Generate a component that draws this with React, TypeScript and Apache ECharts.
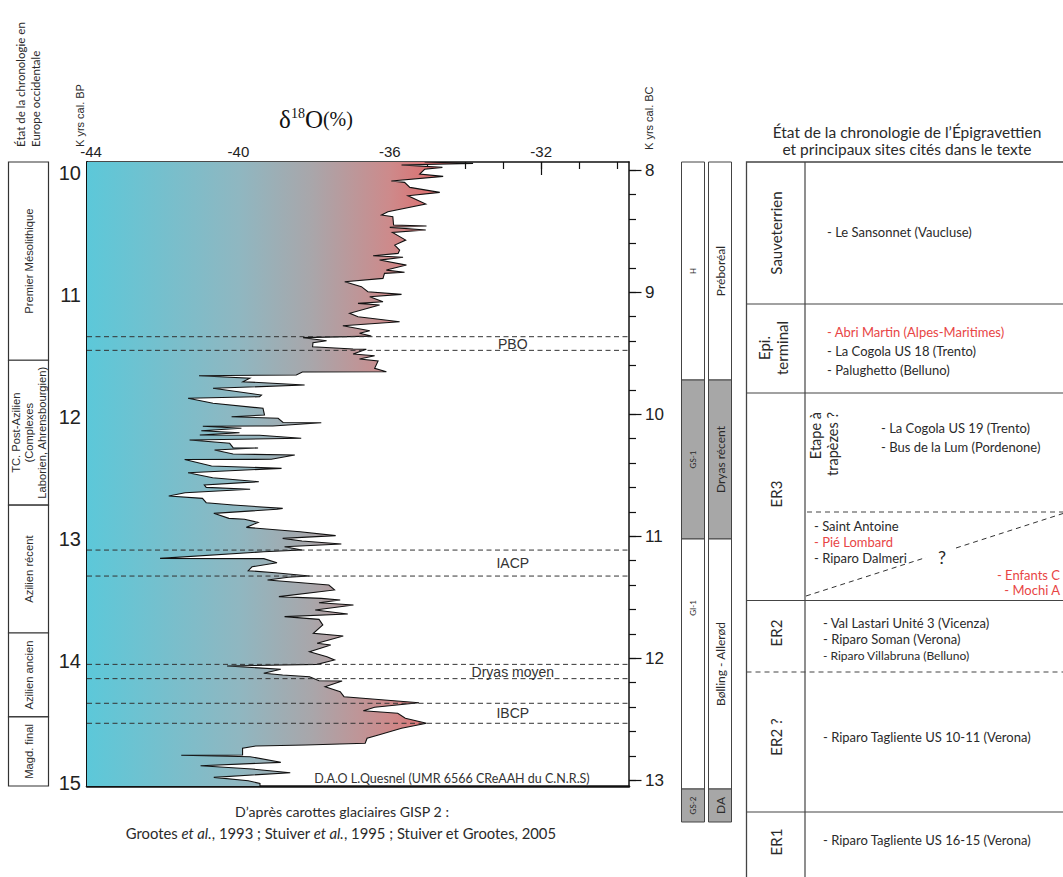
import React, { useEffect, useRef } from "react";
import * as echarts from "echarts";

// ---------- DATA ----------
// GISP2 delta18O curve: [age (k yrs cal. BP), delta18O (permil)]
const curve: [number, number][] = [
  [9.912, -35.08], [9.923, -33.8], [9.937, -35.69], [9.956, -34.61], [9.972, -35.08], [10.011, -35.21],
  [10.03, -34.59], [10.068, -35.96], [10.079, -35.61], [10.12, -35.47], [10.161, -34.68], [10.189, -35.52],
  [10.257, -35.05], [10.32, -36.05], [10.347, -36.22], [10.361, -35.92], [10.429, -35.9], [10.437, -35.03],
  [10.448, -36.0], [10.47, -35.05], [10.49, -35.93], [10.552, -35.58], [10.593, -35.87], [10.634, -35.74],
  [10.661, -35.78], [10.68, -36.44], [10.693, -35.65], [10.716, -36.27], [10.757, -35.56], [10.798, -36.09],
  [10.816, -35.61], [10.825, -36.14], [10.866, -36.18], [10.893, -37.19], [10.934, -36.75], [10.975, -36.58],
  [10.997, -35.69], [11.016, -36.53], [11.057, -36.18], [11.071, -36.84], [11.084, -36.27], [11.152, -37.06],
  [11.18, -36.84], [11.221, -35.74], [11.254, -37.24], [11.295, -36.53], [11.316, -36.8], [11.339, -36.49],
  [11.352, -38.29], [11.377, -37.67], [11.393, -38.03], [11.426, -38.04], [11.445, -36.97], [11.447, -36.62],
  [11.486, -36.97], [11.5, -36.4], [11.527, -36.8], [11.543, -36.31], [11.603, -36.4], [11.631, -36.09],
  [11.633, -38.31], [11.658, -38.47], [11.664, -41.04], [11.685, -39.7], [11.713, -39.88], [11.74, -38.25],
  [11.767, -40.67], [11.822, -39.39], [11.836, -39.44], [11.849, -41.33], [11.89, -40.67], [11.931, -39.35],
  [11.986, -39.31], [12.0, -40.18], [12.013, -38.95], [12.047, -38.82], [12.05, -37.81], [12.076, -39.09],
  [12.078, -40.94], [12.095, -39.92], [12.115, -40.98], [12.131, -39.97], [12.15, -41.02], [12.152, -39.44],
  [12.177, -38.34], [12.191, -41.29], [12.218, -40.23], [12.254, -40.14], [12.256, -39.48], [12.273, -40.63],
  [12.306, -40.14], [12.314, -38.51], [12.349, -39.13], [12.351, -41.42], [12.404, -40.71], [12.423, -38.86],
  [12.459, -41.33], [12.5, -40.68], [12.533, -39.46], [12.56, -40.9], [12.579, -40.85], [12.595, -39.69],
  [12.623, -41.41], [12.65, -41.84], [12.669, -40.95], [12.705, -40.85], [12.724, -40.14], [12.751, -38.83],
  [12.759, -38.98], [12.792, -40.65], [12.833, -40.25], [12.841, -39.84], [12.866, -39.48], [12.907, -39.79],
  [12.943, -38.37], [12.975, -37.43], [12.997, -38.83], [13.019, -38.32], [13.043, -37.28], [13.066, -38.78],
  [13.093, -38.32], [13.107, -39.33], [13.161, -42.07], [13.163, -39.33], [13.197, -38.98], [13.23, -39.64],
  [13.262, -39.74], [13.279, -39.03], [13.306, -38.12], [13.316, -38.68], [13.339, -39.23], [13.38, -37.61],
  [13.42, -37.46], [13.475, -38.93], [13.489, -37.81], [13.502, -37.31], [13.525, -37.87], [13.543, -36.96],
  [13.584, -37.97], [13.617, -37.11], [13.639, -38.78], [13.661, -37.87], [13.707, -37.77], [13.775, -38.02],
  [13.798, -37.23], [13.857, -37.92], [13.871, -37.56], [13.926, -38.12], [13.967, -37.66], [13.994, -37.46],
  [14.03, -37.92], [14.043, -40.3], [14.07, -38.88], [14.103, -39.33], [14.117, -38.83], [14.131, -38.12],
  [14.164, -37.87], [14.166, -37.26], [14.213, -37.71], [14.254, -37.31], [14.295, -37.21], [14.344, -35.23],
  [14.382, -36.4], [14.41, -36.7], [14.431, -35.79], [14.472, -35.59], [14.513, -35.03], [14.554, -35.69],
  [14.609, -36.3], [14.636, -36.6], [14.677, -36.65], [14.691, -38.22], [14.699, -39.54], [14.718, -39.89],
  [14.773, -39.89], [14.775, -41.51], [14.787, -39.69], [14.833, -38.88], [14.861, -41.0], [14.888, -39.64],
  [14.918, -38.63], [14.956, -40.65], [14.984, -39.74], [15.006, -39.43], [15.027, -39.43],
];

// axis ranges and tick values
const X_MIN = -44;
const X_MAX = -29.68;
const BP_MIN = 9.912;
const BP_MAX = 15.027;
const BC_OFFSET = 1.98; // k yrs cal. BC = BP - offset
const xMinorTicks = [-44, -43, -42, -41, -40, -39, -38, -37, -36, -35, -34, -33, -32, -31, -30];
const xMajorTicks = [-44, -40, -36, -32];
const bpMinorTicks = [10, 10.2, 10.4, 10.6, 10.8, 11, 11.2, 11.4, 11.6, 11.8, 12, 12.2, 12.4, 12.6, 12.8, 13, 13.2, 13.4, 13.6, 13.8, 14, 14.2, 14.4, 14.6, 14.8, 15];
const bpMajorTicks = [10, 11, 12, 13, 14, 15];
const bcMinorTicks = [8, 8.2, 8.4, 8.6, 8.8, 9, 9.2, 9.4, 9.6, 9.8, 10, 10.2, 10.4, 10.6, 10.8, 11, 11.2, 11.4, 11.6, 11.8, 12, 12.2, 12.4, 12.6, 12.8, 13];
const bcMajorTicks = [8, 9, 10, 11, 12, 13];

// climatic events (dashed bands)
const eventNames = ["PBO", "IACP", "Dryas moyen", "IBCP"];
const eventStart = [11.344, 13.093, 14.03, 14.349];
const eventEnd = [11.456, 13.306, 14.147, 14.513];
const EVENT_LABEL_X = -32.75;

// Western Europe chronology (left column)
const periodNames = [
  "Premier Mésolithique",
  "TC. Post-Azilien\n(Complexes\nLaborien, Ahrensbourgien)",
  "Azilien récent",
  "Azilien ancien",
  "Magd. final",
];
const periodBounds = [9.912, 11.537, 12.725, 13.773, 14.461, 15.027];

// ---------- STYLE ----------
const ARIAL = "'Liberation Sans', Arial, sans-serif";
const SANS = "Lato, 'Open Sans', sans-serif";
const SERIF = "'Liberation Serif', 'Times New Roman', serif";
const RED = "#e84545";
const INK = "#2a2a2a";
const GRAY = "#a7a7a7";
const GRAD_END = -34.7;
const gradientStops = [
  { offset: 0, color: "#5cc8d9" },
  { offset: 0.43, color: "#8fb7c1" },
  { offset: 0.64, color: "#a9a6aa" },
  { offset: 0.86, color: "#cd8a8b" },
  { offset: 1, color: "#e06c6c" },
];

function renderCurve(params: any, api: any) {
  if (params.dataIndex !== 0) return null;
  const pts = curve.map(([age, d]) => api.coord([d, age]));
  const left0 = api.coord([X_MIN, curve[0][0]]);
  const left1 = api.coord([X_MIN, curve[curve.length - 1][0]]);
  const gx0 = api.coord([X_MIN, 10])[0];
  const gx1 = api.coord([GRAD_END, 10])[0];
  const fill = new echarts.graphic.LinearGradient(gx0, 0, gx1, 0, gradientStops, true);
  return {
    type: "group",
    children: [
      { type: "polygon", shape: { points: [left0, ...pts, left1] }, style: { fill, stroke: "none" } },
      { type: "polyline", shape: { points: pts }, style: { fill: "none", stroke: "#111", lineWidth: 1.1 } },
    ],
  };
}

function renderEvent(params: any, api: any) {
  const cs = params.coordSys;
  const i = params.dataIndex;
  const y1 = api.coord([X_MIN, eventStart[i]])[1];
  const y2 = api.coord([X_MIN, eventEnd[i]])[1];
  const xl = api.coord([EVENT_LABEL_X, eventStart[i]])[0];
  const dash = { stroke: "#333", lineWidth: 1, lineDash: [5, 3.5] };
  return {
    type: "group",
    children: [
      { type: "line", shape: { x1: cs.x, y1, x2: cs.x + cs.width, y2: y1 }, style: dash },
      { type: "line", shape: { x1: cs.x, y1: y2, x2: cs.x + cs.width, y2 }, style: dash },
      {
        type: "text",
        x: xl,
        y: (y1 + y2) / 2,
        style: { text: eventNames[i], align: "center", verticalAlign: "middle", fontSize: 14, fontFamily: ARIAL, fill: "#333" },
      },
    ],
  };
}

function renderPeriod(params: any, api: any) {
  const i = params.dataIndex;
  const y0 = api.coord([X_MIN, periodBounds[i]])[1];
  const y1 = api.coord([X_MIN, periodBounds[i + 1]])[1];
  return {
    type: "group",
    children: [
      { type: "rect", shape: { x: 8.5, y: y0, width: 40, height: y1 - y0 }, style: { fill: "#fff", stroke: "#333", lineWidth: 1.2 } },
      {
        type: "text",
        x: 28.5,
        y: (y0 + y1) / 2,
        rotation: Math.PI / 2,
        style: {
          text: periodNames[i],
          align: "center",
          verticalAlign: "middle",
          fontSize: 11.2,
          lineHeight: 13,
          fontFamily: ARIAL,
          fill: INK,
        },
      },
    ],
  };
}

// ---------- graphic helpers ----------
function vtext(text: string, x: number, y: number, o: any = {}) {
  return {
    type: "text",
    x,
    y,
    rotation: Math.PI / 2,
    style: {
      text,
      fontSize: o.size ?? 12,
      fontFamily: o.family ?? SANS,
      fill: o.color ?? INK,
      align: o.align ?? "center",
      verticalAlign: "middle",
    },
  };
}
function htext(text: string, x: number, y: number, o: any = {}) {
  return {
    type: "text",
    x,
    y,
    style: {
      text,
      fontSize: o.size ?? 13,
      fontFamily: o.family ?? SANS,
      fill: o.color ?? INK,
      align: o.align ?? "left",
      verticalAlign: "middle",
    },
  };
}
function box(x: number, y: number, w: number, h: number, fill: string) {
  return { type: "rect", shape: { x, y, width: w, height: h }, style: { fill, stroke: "#444", lineWidth: 1 } };
}
function hline(x1: number, x2: number, y: number, dashed = false) {
  return {
    type: "line",
    shape: { x1, y1: y, x2, y2: y },
    style: { stroke: "#444", lineWidth: 1.2, lineDash: dashed ? [5, 4] : null },
  };
}
function seg(x1: number, y1: number, x2: number, y2: number) {
  return { type: "line", shape: { x1, y1, x2, y2 }, style: { stroke: "#333", lineWidth: 1, lineDash: [5, 4] } };
}

// middle stratigraphic columns
const col1Names = ["H", "GS-1", "GI-1", "GS-2"];
const col2Names = ["Préboréal", "Dryas récent", "Bølling - Allerød", "DA"];
const colBounds = [162, 380, 539, 789, 822];
const colFills = ["#fff", GRAY, "#fff", GRAY];

function buildGraphics() {
  const g: any[] = [];
  // top-left titles
  g.push(vtext("État de la chronologie en", 20.5, 147, { align: "left", size: 11.5 }));
  g.push(vtext("Europe occidentale", 35, 147, { align: "left", size: 11.5 }));
  g.push(vtext("K yrs cal. BP", 80, 147, { align: "left", size: 11, family: ARIAL }));
  g.push(vtext("K yrs cal. BC", 649, 150, { align: "left", size: 11, family: ARIAL }));
  // delta18O title
  g.push({
    type: "text",
    x: 316,
    y: 119,
    style: {
      text: "{a|δ}{b|18}{a|O}{c|(%)}",
      align: "center",
      verticalAlign: "middle",
      rich: {
        a: { fontSize: 25, fontFamily: SERIF, fill: "#111" },
        b: { fontSize: 14, fontFamily: SERIF, fill: "#111", padding: [0, 0, 11, 0] },
        c: { fontSize: 20, fontFamily: SERIF, fill: "#111" },
      },
    },
  });
  // credit
  g.push(htext("D.A.O L.Quesnel (UMR 6566 CReAAH du C.N.R.S)", 452, 778, { align: "center", size: 12.5, color: "#333" }));
  // caption
  g.push(htext("D’après carottes glaciaires GISP 2 :", 342, 811, { align: "center", size: 14.2 }));
  g.push({
    type: "text",
    x: 341,
    y: 833,
    style: {
      text: "{n|Grootes }{i|et al.}{n|, 1993 ; Stuiver }{i|et al.}{n|, 1995 ; Stuiver et Grootes, 2005}",
      align: "center",
      verticalAlign: "middle",
      rich: {
        n: { fontSize: 14.8, fontFamily: SANS, fill: INK },
        i: { fontSize: 14.8, fontFamily: SANS, fill: INK, fontStyle: "italic" },
      },
    },
  });
  // middle columns
  for (let i = 0; i < 4; i++) {
    const y0 = colBounds[i];
    const y1 = colBounds[i + 1];
    g.push(box(681.5, y0, 23, y1 - y0, colFills[i]));
    g.push(box(708.5, y0, 23, y1 - y0, colFills[i]));
    const cy1 = i === 2 ? 608 : (y0 + y1) / 2;
    g.push(vtext(col1Names[i], 693, cy1, { size: 8 }));
    g.push(vtext(col2Names[i], 720, (y0 + y1) / 2, { size: 12 }));
  }
  // table title
  g.push(htext("État de la chronologie de l’Épigravettien", 907, 131.5, { align: "center", size: 15.5 }));
  g.push(htext("et principaux sites cités dans le texte", 907, 148.5, { align: "center", size: 15.5 }));
  // table frame
  g.push({ type: "rect", shape: { x: 746.5, y: 162, width: 330, height: 730 }, style: { fill: "none", stroke: "#444", lineWidth: 1.3 } });
  g.push({ type: "line", shape: { x1: 805, y1: 162, x2: 805, y2: 880 }, style: { stroke: "#444", lineWidth: 1.2 } });
  g.push(hline(746.5, 1070, 304));
  g.push(hline(746.5, 1070, 393));
  g.push(hline(746.5, 1070, 600.5));
  g.push(hline(746.5, 1070, 672, true));
  g.push(hline(746.5, 1070, 812));
  g.push(hline(807, 1070, 512, true));
  g.push(seg(806, 596, 926, 557.5));
  g.push(seg(956, 548, 1063, 513.5));
  // row labels
  g.push(vtext("Sauveterrien", 776, 233, { size: 15 }));
  g.push(vtext("Epi.", 764, 348, { size: 15 }));
  g.push(vtext("terminal", 782, 348, { size: 15 }));
  g.push(vtext("ER3", 776, 494, { size: 15 }));
  g.push(vtext("ER2", 776, 633, { size: 15 }));
  g.push(vtext("ER2 ?", 776, 737, { size: 15 }));
  g.push(vtext("ER1", 776, 842, { size: 15 }));
  g.push(vtext("Etape à", 815, 412, { size: 14.5, align: "right" }));
  g.push(vtext("trapèzes ?", 832, 412, { size: 14.5, align: "right" }));
  // sites
  g.push(htext("- Le Sansonnet (Vaucluse)", 827, 232));
  g.push(htext("- Abri Martin (Alpes-Maritimes)", 827, 332, { color: RED }));
  g.push(htext("- La Cogola US 18 (Trento)", 827, 351));
  g.push(htext("- Palughetto (Belluno)", 827, 370));
  g.push(htext("- La Cogola US 19 (Trento)", 881, 428));
  g.push(htext("- Bus de la Lum (Pordenone)", 881, 447));
  g.push(htext("- Saint Antoine", 814, 526));
  g.push(htext("- Pié Lombard", 814, 542, { color: RED }));
  g.push(htext("- Riparo Dalmeri", 814, 558));
  g.push(htext("?", 942, 557, { size: 18, align: "center" }));
  g.push(htext("- Enfants C", 1060, 575, { color: RED, align: "right" }));
  g.push(htext("- Mochi A", 1060, 590, { color: RED, align: "right" }));
  g.push(htext("- Val Lastari Unité 3 (Vicenza)", 823, 623));
  g.push(htext("- Riparo Soman (Verona)", 823, 639));
  g.push(htext("- Riparo Villabruna (Belluno)", 823, 655, { size: 12 }));
  g.push(htext("- Riparo Tagliente US 10-11 (Verona)", 823, 737));
  g.push(htext("- Riparo Tagliente US 16-15 (Verona)", 823, 840));
  return g;
}

export default function App() {
  const ref = useRef<HTMLDivElement>(null);
  useEffect(() => {
    document.body.style.margin = "0";
    const chart = echarts.init(ref.current!, null, { renderer: "svg" });
    const tickStyle = { color: "#111", width: 1.2 };
    const option: any = {
      animation: false,
      backgroundColor: "#fff",
      grid: { left: 87, top: 162, width: 542, height: 624, show: false },
      xAxis: [
        {
          type: "value", position: "top", min: X_MIN, max: X_MAX,
          axisLine: { show: true, lineStyle: { color: "#111", width: 1.5 } },
          axisTick: { show: true, inside: true, length: 7, customValues: xMinorTicks, lineStyle: tickStyle },
          axisLabel: { show: false }, splitLine: { show: false },
        },
        {
          type: "value", position: "top", min: X_MIN, max: X_MAX,
          axisLine: { show: false },
          axisTick: { show: true, inside: true, length: 13, customValues: xMajorTicks, lineStyle: tickStyle },
          axisLabel: {
            show: true, customValues: xMajorTicks, fontSize: 15, fontFamily: ARIAL, color: "#222", margin: 3,
            formatter: (v: number) => (v === X_MIN ? "{m|" + v + "}" : String(v)),
            rich: { m: { fontSize: 15, fontFamily: ARIAL, color: "#222", padding: [0, 0, 0, 8] } },
          },
          splitLine: { show: false },
        },
        {
          type: "value", position: "bottom", min: X_MIN, max: X_MAX,
          axisLine: { show: true, lineStyle: { color: "#111", width: 2.5 } },
          axisTick: { show: false }, axisLabel: { show: false }, splitLine: { show: false },
        },
      ],
      yAxis: [
        {
          type: "value", position: "left", inverse: true, min: BP_MIN, max: BP_MAX,
          axisLine: { show: true, lineStyle: { color: "#111", width: 2 } },
          axisTick: { show: true, inside: true, length: 9, customValues: bpMinorTicks, lineStyle: tickStyle },
          axisLabel: { show: false }, splitLine: { show: false },
        },
        {
          type: "value", position: "left", inverse: true, min: BP_MIN, max: BP_MAX,
          axisLine: { show: false },
          axisTick: { show: true, inside: true, length: 19, customValues: bpMajorTicks, lineStyle: tickStyle },
          axisLabel: { show: true, customValues: bpMajorTicks, fontSize: 20, fontFamily: ARIAL, color: "#222", margin: 6 },
          splitLine: { show: false },
        },
        {
          type: "value", position: "right", inverse: true, min: BP_MIN - BC_OFFSET, max: BP_MAX - BC_OFFSET,
          axisLine: { show: true, lineStyle: { color: "#111", width: 1.5 } },
          axisTick: { show: true, inside: false, length: 7, customValues: bcMinorTicks, lineStyle: tickStyle },
          axisLabel: { show: false }, splitLine: { show: false },
        },
        {
          type: "value", position: "right", inverse: true, min: BP_MIN - BC_OFFSET, max: BP_MAX - BC_OFFSET,
          axisLine: { show: false },
          axisTick: { show: true, inside: false, length: 12.5, customValues: bcMajorTicks, lineStyle: tickStyle },
          axisLabel: { show: true, customValues: bcMajorTicks, fontSize: 17, fontFamily: ARIAL, color: "#222", margin: 16 },
          splitLine: { show: false },
        },
      ],
      series: [
        {
          type: "custom", name: "δ18O", xAxisIndex: 0, yAxisIndex: 0, clip: true,
          data: curve.map(([age, d]) => [d, age]),
          encode: { x: 0, y: 1 },
          renderItem: renderCurve, z: 2,
        },
        {
          type: "custom", name: "events", xAxisIndex: 0, yAxisIndex: 0, clip: false,
          data: eventNames.map((_, i) => [EVENT_LABEL_X, eventStart[i], eventEnd[i]]),
          encode: { x: 0, y: [1, 2] },
          renderItem: renderEvent, z: 3,
        },
        {
          type: "custom", name: "periods", xAxisIndex: 0, yAxisIndex: 0, clip: false,
          data: periodNames.map((_, i) => [X_MIN, periodBounds[i], periodBounds[i + 1]]),
          encode: { x: 0, y: [1, 2] },
          renderItem: renderPeriod, z: 3,
        },
      ],
      graphic: buildGraphics(),
    };
    chart.setOption(option);
    return () => chart.dispose();
  }, []);
  return <div ref={ref} style={{ position: "absolute", left: 0, top: 0, width: 1063, height: 877 }} />;
}
